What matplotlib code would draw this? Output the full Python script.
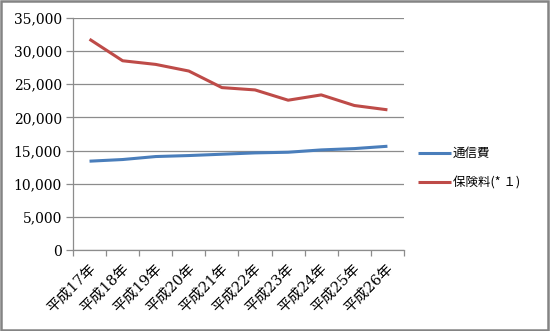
import matplotlib
matplotlib.use("Agg")
import matplotlib.pyplot as plt
import matplotlib.ticker as mticker
from matplotlib.patches import Rectangle
import numpy as np

# categories (fiscal years) and the two series
years = ['平成17年', '平成18年', '平成19年', '平成20年', '平成21年',
         '平成22年', '平成23年', '平成24年', '平成25年', '平成26年']
tsushin = [13400, 13650, 14100, 14250, 14450, 14650, 14750, 15100, 15300, 15650]
hoken = [31800, 28550, 28000, 27000, 24500, 24150, 22600, 23400, 21800, 21150]

blue = '#4a7ebb'
red = '#be4b48'
grid_c = '#8c8c8c'

fig = plt.figure(figsize=(5.5, 3.31), dpi=100)
ax = fig.add_axes([0.1327, 0.2447, 0.6018, 0.7009])

x = np.arange(len(years))
ax.plot(x, tsushin, color=blue, lw=2.2, solid_capstyle='butt', label='通信費')
ax.plot(x, hoken, color=red, lw=2.2, solid_capstyle='butt', label='保険料(* １)')

ax.set_xlim(-0.5, len(years) - 0.5)
ax.set_ylim(0, 35000)
ax.yaxis.set_major_locator(mticker.MultipleLocator(5000))
ax.yaxis.set_major_formatter(mticker.StrMethodFormatter('{x:,.0f}'))
ax.grid(axis='y', color=grid_c, lw=0.9)
ax.set_axisbelow(True)

# category boundaries as tick marks, labels at the centres
ax.set_xticks(np.arange(-0.5, len(years), 1.0))
ax.set_xticklabels([])
ax.tick_params(axis='x', which='major', length=4, color=grid_c, width=0.9)
ax.set_xticks(x - 0.04, minor=True)
ax.set_xticklabels(years, minor=True, rotation=45, ha='right', va='top',
                   rotation_mode='anchor', fontsize=10.5,
                   family=['DejaVu Serif', 'Noto Sans CJK JP'])
ax.tick_params(axis='x', which='minor', length=0, pad=8)

ax.tick_params(axis='y', length=5, color=grid_c, width=0.9, pad=3,
               labelsize=10)
for lab in ax.get_yticklabels():
    lab.set_family('DejaVu Serif')

for s in ['top', 'right']:
    ax.spines[s].set_visible(False)
ax.spines['left'].set_color(grid_c)
ax.spines['bottom'].set_color(grid_c)
ax.spines['left'].set_linewidth(0.9)
ax.spines['bottom'].set_linewidth(0.9)

leg = fig.legend(loc='upper left', bbox_to_anchor=(0.739, 0.5894), frameon=False,
                 handlelength=2.7, handletextpad=0.12, labelspacing=1.3,
                 prop={'family': ['Noto Sans CJK JP'], 'size': 9})

# outer frame
fig.patches.append(Rectangle((0.002, 0.003), 0.994, 0.994, transform=fig.transFigure,
                             fill=False, edgecolor='#848484', lw=1.8))

fig.savefig('out.png', dpi=100)
